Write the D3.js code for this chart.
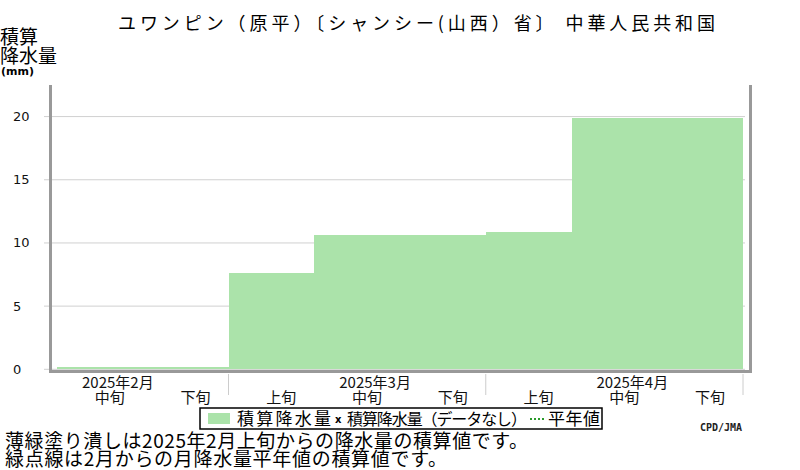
<!DOCTYPE html>
<html>
<head>
<meta charset="utf-8">
<script src="https://cdn.jsdelivr.net/npm/d3@7"></script>
<style>
  body { margin: 0; background: #fff; }
  text { font-family: "Noto Sans CJK JP", "DejaVu Sans", sans-serif; }
</style>
</head>
<body>
<div id="chart"></div>
<script>
// Chart data
const decadeLabels = ["中旬", "下旬", "上旬", "中旬", "下旬", "上旬", "中旬", "下旬"];
const monthLabels = ["2025年2月", "2025年3月", "2025年4月"];
const monthAt = [0, 3, 6]; // decade index under which each month label sits
const monthEnds = [2, 5, 8]; // decade index where a month ends
const accumRain = [0.2, 0.2, 7.6, 10.6, 10.6, 10.9, 19.9, 19.9];
const yTicks = [0, 5, 10, 15, 20];

const width = 800;
const height = 470;

const svg = d3
  .select("#chart")
  .append("svg")
  .attr("width", width)
  .attr("height", height);

// Scales
const x = d3
  .scaleBand()
  .domain(d3.range(decadeLabels.length))
  .range([57, 743])
  .padding(0);

const y = d3.scaleLinear().domain([0, 22.5]).range([369.3, 85]);

// Title
svg
  .append("text")
  .attr("x", 118)
  .attr("y", 30)
  .attr("font-size", 18)
  .attr("textLength", 597)
  .attr("lengthAdjust", "spacing")
  .text("ユワンピン（原平）〔シャンシー(山西）省〕 中華人民共和国");

// Y axis label
const yLab = svg.append("g");
yLab.append("text").attr("x", 0).attr("y", 44).attr("font-size", 19).text("積算");
yLab.append("text").attr("x", 0).attr("y", 63).attr("font-size", 19).text("降水量");
yLab
  .append("text")
  .attr("x", 1)
  .attr("y", 75)
  .attr("font-size", 11)
  .attr("font-weight", "bold")
  .style("font-family", "DejaVu Sans")
  .text("(mm)");

// Gridlines + ticks
const grid = svg.append("g");
grid
  .selectAll("line.grid")
  .data(yTicks)
  .enter()
  .append("line")
  .attr("class", "grid")
  .attr("x1", 44)
  .attr("x2", 745)
  .attr("y1", (d) => y(d))
  .attr("y2", (d) => y(d))
  .attr("stroke", "#d0d0d0")
  .attr("stroke-width", 1);

grid
  .selectAll("text")
  .data(yTicks)
  .enter()
  .append("text")
  .attr("x", 13)
  .attr("y", (d) => y(d))
  .attr("dy", "0.35em")
  .attr("font-size", 13)
  .style("font-family", "DejaVu Sans")
  .attr("fill", "#111")
  .text((d) => d);

// Accumulated rainfall as one stepped area (no seams between decades)
const stepPts = accumRain.map((v, i) => [x(i), v]);
stepPts.push([x(0) + accumRain.length * x.step(), accumRain[accumRain.length - 1]]);

const area = d3
  .area()
  .curve(d3.curveStepAfter)
  .x((d) => d[0])
  .y0(y(0))
  .y1((d) => y(d[1]));

svg
  .append("path")
  .datum(stepPts)
  .attr("d", area)
  .attr("fill", "#abe3aa")
  .attr("shape-rendering", "crispEdges");

// Frame
const frame = svg.append("g").attr("stroke", "#999").attr("stroke-width", 3).attr("fill", "none");
frame.append("path").attr("d", "M50.5,85 V371.5 H750.5 V85");

// Month separators under the axis
svg
  .append("g")
  .selectAll("line")
  .data(monthEnds)
  .enter()
  .append("line")
  .attr("x1", (d) => x(0) + d * x.step())
  .attr("x2", (d) => x(0) + d * x.step())
  .attr("y1", 374)
  .attr("y2", 395)
  .attr("stroke", "#ccc");

// Decade labels
svg
  .append("g")
  .selectAll("text")
  .data(decadeLabels)
  .enter()
  .append("text")
  .attr("x", (d, i) => x(i) + x.bandwidth() / 2 + 10)
  .attr("y", 403)
  .attr("text-anchor", "middle")
  .attr("font-size", 15)
  .attr("fill", "#111")
  .text((d) => d);

// Month labels
svg
  .append("g")
  .selectAll("text")
  .data(monthLabels)
  .enter()
  .append("text")
  .attr("x", (d, i) => x(monthAt[i]) + 25)
  .attr("y", 388)
  .attr("font-size", 15)
  .attr("fill", "#111")
  .text((d) => d);

// Legend
const legend = svg.append("g");
legend
  .append("rect")
  .attr("x", 200)
  .attr("y", 408)
  .attr("width", 402)
  .attr("height", 21)
  .attr("fill", "#fff")
  .attr("stroke", "#000")
  .attr("stroke-width", 1.5);
legend
  .append("rect")
  .attr("x", 208)
  .attr("y", 413)
  .attr("width", 22)
  .attr("height", 11)
  .attr("fill", "#abe3aa");
legend
  .append("text")
  .attr("x", 237)
  .attr("y", 425)
  .attr("font-size", 17)
  .attr("textLength", 94)
  .attr("lengthAdjust", "spacing")
  .text("積算降水量");
legend
  .append("text")
  .attr("x", 335)
  .attr("y", 423)
  .attr("font-size", 10)
  .attr("font-weight", "bold")
  .style("font-family", "DejaVu Sans")
  .text("x");
legend
  .append("text")
  .attr("x", 347)
  .attr("y", 425)
  .attr("font-size", 16)
  .attr("textLength", 180)
  .attr("lengthAdjust", "spacing")
  .text("積算降水量（データなし）");
legend
  .append("line")
  .attr("x1", 530)
  .attr("x2", 545)
  .attr("y1", 419)
  .attr("y2", 419)
  .attr("stroke", "#2a9a2a")
  .attr("stroke-width", 2)
  .attr("stroke-dasharray", "2,2");
legend
  .append("text")
  .attr("x", 548)
  .attr("y", 425)
  .attr("font-size", 17)
  .attr("textLength", 52)
  .attr("lengthAdjust", "spacing")
  .text("平年値");

// Credit
svg
  .append("text")
  .attr("x", 700)
  .attr("y", 431)
  .attr("font-size", 10)
  .attr("font-weight", "bold")
  .style("font-family", "DejaVu Sans Mono")
  .attr("fill", "#222")
  .text("CPD/JMA");

// Footnotes
svg
  .append("text")
  .attr("x", 5)
  .attr("y", 448)
  .attr("font-size", 19)
  .attr("textLength", 523)
  .attr("lengthAdjust", "spacing")
  .text("薄緑塗り潰しは2025年2月上旬からの降水量の積算値です。");
svg
  .append("text")
  .attr("x", 5)
  .attr("y", 466)
  .attr("font-size", 19)
  .attr("textLength", 442)
  .attr("lengthAdjust", "spacing")
  .text("緑点線は2月からの月降水量平年値の積算値です。");
</script>
</body>
</html>
